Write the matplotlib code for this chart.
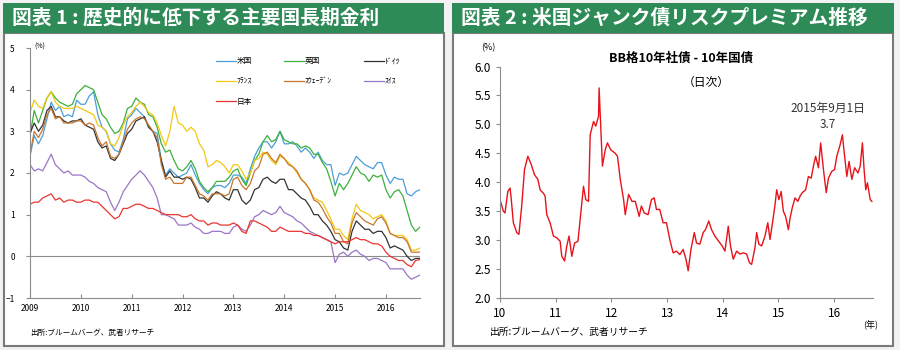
import numpy as np
import matplotlib
matplotlib.use('Agg')
import matplotlib.pyplot as plt
from matplotlib.patches import Rectangle

plt.rcParams['font.family'] = ['Noto Sans CJK JP', 'DejaVu Sans']

# ---- chart 1: long-term yields, monthly, Jan 2009 - Sep 2016 ----
months = np.arange(2009, 2016 + 8 / 12 + 1e-9, 1 / 12)

us = [2.4, 2.9, 2.7, 2.9, 3.3, 3.7, 3.5, 3.6, 3.35, 3.4, 3.35, 3.75,
      3.65, 3.65, 3.85, 3.95, 3.4, 3.1, 3.0, 2.7, 2.55, 2.5, 2.8, 3.3,
      3.4, 3.55, 3.45, 3.35, 3.1, 3.0, 2.95, 2.3, 1.95, 2.1, 2.0, 1.9,
      1.95, 2.0, 2.2, 1.95, 1.75, 1.6, 1.5, 1.65, 1.7, 1.7, 1.65, 1.75,
      1.95, 1.95, 1.9, 1.75, 2.1, 2.4, 2.6, 2.75, 2.75, 2.6, 2.75, 3.0,
      2.7, 2.7, 2.75, 2.65, 2.5, 2.6, 2.5, 2.35, 2.5, 2.3, 2.2, 2.2,
      1.7, 2.0, 1.95, 2.0, 2.2, 2.4, 2.3, 2.2, 2.15, 2.1, 2.25, 2.25,
      1.95, 1.75, 1.9, 1.85, 1.85, 1.5, 1.45, 1.55, 1.6]
uk = [2.9, 3.5, 3.2, 3.5, 3.8, 3.95, 3.8, 3.7, 3.65, 3.6, 3.65, 3.9,
      4.0, 4.1, 4.05, 4.0, 3.7, 3.4, 3.3, 3.1, 2.95, 3.0, 3.2, 3.55,
      3.6, 3.8, 3.7, 3.65, 3.4, 3.35, 3.1, 2.7, 2.5, 2.55, 2.3, 2.1,
      2.05, 2.15, 2.3, 2.1, 1.8, 1.65, 1.55, 1.65, 1.8, 1.8, 1.8, 1.9,
      2.05, 2.1, 1.85, 1.7, 2.0, 2.3, 2.45, 2.75, 2.9, 2.75, 2.8, 3.0,
      2.8, 2.75, 2.7, 2.7, 2.6, 2.65, 2.6, 2.45, 2.45, 2.25, 2.1, 1.8,
      1.45, 1.75, 1.6, 1.75, 1.95, 2.15, 2.0, 1.95, 1.8, 1.95, 1.9, 1.95,
      1.6, 1.4, 1.55, 1.6, 1.45, 1.1, 0.75, 0.6, 0.7]
de = [2.95, 3.2, 3.0, 3.15, 3.5, 3.6, 3.35, 3.35, 3.25, 3.2, 3.25, 3.25,
      3.3, 3.15, 3.1, 3.05, 2.75, 2.6, 2.65, 2.35, 2.3, 2.45, 2.7, 2.95,
      3.05, 3.25, 3.3, 3.35, 3.1, 3.0, 2.75, 2.3, 1.9, 2.05, 1.9, 1.9,
      1.85, 1.9, 1.85, 1.65, 1.4, 1.4, 1.3, 1.45, 1.55, 1.5, 1.4, 1.35,
      1.6, 1.6, 1.35, 1.25, 1.35, 1.6, 1.65, 1.85, 1.9, 1.8, 1.75, 1.85,
      1.85, 1.6, 1.6, 1.5, 1.4, 1.35, 1.2, 1.0, 1.0, 0.85, 0.75, 0.6,
      0.4, 0.35, 0.2, 0.15, 0.6, 0.85, 0.75, 0.65, 0.65, 0.55, 0.6, 0.6,
      0.45, 0.2, 0.25, 0.2, 0.15, 0.0, -0.1, -0.05, -0.05]
fr = [3.45, 3.75, 3.6, 3.55, 3.8, 3.95, 3.7, 3.6, 3.55, 3.55, 3.55, 3.6,
      3.55, 3.5, 3.45, 3.4, 3.15, 3.1, 3.0, 2.7, 2.65, 2.85, 3.15, 3.35,
      3.45, 3.6, 3.7, 3.6, 3.45, 3.4, 3.2, 2.9, 2.65, 3.0, 3.6, 3.2,
      3.15, 3.0, 3.1, 3.0, 2.7, 2.55, 2.15, 2.2, 2.3, 2.25, 2.15, 2.0,
      2.2, 2.2, 2.05, 1.85, 2.0, 2.3, 2.35, 2.5, 2.45, 2.3, 2.2, 2.4,
      2.35, 2.25, 2.15, 2.0, 1.85, 1.75, 1.6, 1.4, 1.35, 1.3, 1.1, 0.9,
      0.65, 0.65, 0.5, 0.4, 0.9, 1.25, 1.1, 1.05, 1.0, 0.9, 0.95, 1.0,
      0.85, 0.55, 0.5, 0.5, 0.5, 0.4, 0.15, 0.15, 0.2]
se = [2.45, 3.0, 2.85, 3.05, 3.4, 3.55, 3.3, 3.35, 3.2, 3.2, 3.2, 3.25,
      3.25, 3.15, 3.2, 3.15, 2.85, 2.65, 2.75, 2.4, 2.35, 2.45, 2.75, 3.05,
      3.2, 3.3, 3.35, 3.3, 3.15, 3.0, 2.85, 2.2, 1.85, 1.9, 1.75, 1.75,
      1.75, 1.9, 1.9, 1.7, 1.5, 1.45, 1.35, 1.5, 1.5, 1.5, 1.45, 1.5,
      1.85, 1.9, 1.7, 1.6, 1.75, 2.05, 2.15, 2.45, 2.5, 2.35, 2.25, 2.45,
      2.35, 2.2, 2.15, 2.05, 1.85, 1.75, 1.6, 1.35, 1.3, 1.15, 0.95, 0.8,
      0.55, 0.55, 0.35, 0.3, 0.8, 1.05, 0.95, 0.85, 0.8, 0.75, 0.9, 0.95,
      0.8, 0.55, 0.5, 0.45, 0.45, 0.35, 0.1, 0.1, 0.1]
ch = [2.2, 2.05, 2.1, 2.05, 2.25, 2.45, 2.2, 2.1, 2.0, 2.05, 1.95, 1.95,
      1.95, 1.9, 1.8, 1.75, 1.65, 1.6, 1.55, 1.3, 1.1, 1.3, 1.55, 1.7,
      1.85, 1.95, 2.05, 1.95, 1.8, 1.65, 1.4, 1.0, 1.0, 0.95, 0.9, 0.75,
      0.75, 0.75, 0.8, 0.7, 0.65, 0.55, 0.55, 0.6, 0.6, 0.6, 0.55, 0.55,
      0.7, 0.75, 0.65, 0.6, 0.75, 0.95, 1.0, 1.1, 1.05, 1.0, 1.05, 1.2,
      1.05, 1.0, 0.95, 0.85, 0.8, 0.7, 0.6, 0.55, 0.5, 0.45, 0.4, 0.35,
      -0.15, 0.05, 0.1, 0.0, 0.1, 0.15, 0.05, 0.0, -0.1, -0.05, -0.05, -0.1,
      -0.15, -0.3, -0.3, -0.3, -0.3, -0.45, -0.55, -0.5, -0.45]
jp = [1.25, 1.3, 1.3, 1.4, 1.45, 1.5, 1.35, 1.4, 1.3, 1.35, 1.35, 1.3,
      1.3, 1.35, 1.35, 1.3, 1.3, 1.2, 1.1, 1.0, 0.9, 0.95, 1.15, 1.15,
      1.2, 1.25, 1.25, 1.2, 1.15, 1.15, 1.1, 1.05, 1.0, 1.0, 1.0, 1.0,
      0.95, 0.95, 1.0, 0.9, 0.85, 0.85, 0.75, 0.8, 0.8, 0.75, 0.75, 0.75,
      0.8, 0.75, 0.6, 0.55, 0.85, 0.85, 0.8, 0.75, 0.7, 0.6, 0.6, 0.7,
      0.65, 0.6, 0.6, 0.6, 0.6, 0.55, 0.55, 0.5, 0.5, 0.45, 0.4, 0.35,
      0.3, 0.35, 0.35, 0.35, 0.4, 0.45, 0.4, 0.4, 0.35, 0.3, 0.3, 0.25,
      0.1, 0.0, -0.05, -0.1, -0.1, -0.2, -0.25, -0.1, -0.08]

names = ['米国', '英国', 'ﾄﾞｲﾂ', 'ﾌﾗﾝｽ', 'ｽｳｪｰﾃﾞﾝ', 'ｽｲｽ', '日本']
colors = ['#4a9fd8', '#3cb03c', '#333333', '#f2c811', '#c8762e', '#9a76c6', '#ea3530']

# ---- chart 2: BB 10y corporate - 10y treasury spread ----
spread_year = [10.00, 10.06, 10.09, 10.14, 10.18, 10.20, 10.24, 10.30, 10.34, 10.39,
               10.44, 10.50, 10.56, 10.62, 10.68, 10.72, 10.78, 10.81, 10.84, 10.90,
               10.96, 11.02, 11.08, 11.11, 11.16, 11.20, 11.24, 11.29, 11.34, 11.40,
               11.44, 11.50, 11.54, 11.59, 11.62, 11.68, 11.72, 11.77, 11.78, 11.81,
               11.84, 11.89, 11.93, 11.99, 12.07, 12.11, 12.16, 12.22, 12.25, 12.31,
               12.37, 12.43, 12.50, 12.54, 12.59, 12.66, 12.72, 12.77, 12.81, 12.87,
               12.93, 12.99, 13.05, 13.11, 13.17, 13.23, 13.29, 13.34, 13.38, 13.43,
               13.49, 13.53, 13.59, 13.65, 13.69, 13.75, 13.80, 13.86, 13.93, 13.99,
               14.04, 14.10, 14.14, 14.19, 14.25, 14.31, 14.37, 14.43, 14.48, 14.52,
               14.58, 14.61, 14.65, 14.70, 14.76, 14.81, 14.85, 14.89, 14.94, 14.97,
               15.01, 15.05, 15.09, 15.13, 15.18, 15.21, 15.25, 15.30, 15.35, 15.39,
               15.43, 15.49, 15.54, 15.59, 15.63, 15.67, 15.72, 15.76, 15.81, 15.86,
               15.90, 15.96, 16.01, 16.05, 16.11, 16.15, 16.19, 16.23, 16.27, 16.32,
               16.37, 16.43, 16.47, 16.51, 16.54, 16.57, 16.60, 16.65, 16.68]
spread = [3.70, 3.50, 3.47, 3.84, 3.90, 3.73, 3.30, 3.13, 3.10, 3.59,
          4.22, 4.45, 4.31, 4.13, 4.05, 3.87, 3.81, 3.76, 3.44, 3.30,
          3.07, 3.04, 2.98, 2.72, 2.64, 2.90, 3.07, 2.72, 2.95, 2.98,
          3.36, 3.93, 3.70, 3.67, 4.82, 5.05, 4.97, 5.14, 5.63, 4.97,
          4.28, 4.56, 4.68, 4.56, 4.50, 4.45, 4.05, 3.70, 3.44, 3.79,
          3.67, 3.67, 3.41, 3.59, 3.47, 3.44, 3.70, 3.73, 3.53, 3.53,
          3.30, 3.30, 3.01, 2.78, 2.81, 2.75, 2.84, 2.67, 2.47, 2.84,
          3.13, 2.95, 2.93, 3.13, 3.18, 3.33, 3.18, 3.07, 2.98, 2.90,
          2.81, 3.24, 2.90, 2.67, 2.81, 2.76, 2.78, 2.76, 2.61, 2.58,
          2.87, 3.13, 2.93, 2.90, 3.07, 3.30, 3.01, 3.27, 3.61, 3.87,
          3.70, 3.84, 3.50, 3.41, 3.18, 3.38, 3.56, 3.73, 3.67, 3.76,
          3.82, 3.87, 4.10, 4.07, 4.28, 4.45, 4.25, 4.68, 4.22, 3.82,
          4.07, 4.19, 4.22, 4.45, 4.65, 4.82, 4.45, 4.10, 4.36, 4.05,
          4.25, 4.16, 4.28, 4.68, 4.22, 3.87, 3.99, 3.70, 3.67]

W, H = 900, 350
fig = plt.figure(figsize=(9, 3.5), dpi=100, facecolor='#f2f2f2')


def box(x0, y0, x1, y1, **kw):
    # pixel box (top-left origin) -> figure rectangle
    r = Rectangle((x0 / W, 1 - y1 / H), (x1 - x0) / W, (y1 - y0) / H,
                  transform=fig.transFigure, zorder=-5, **kw)
    fig.add_artist(r)


green = '#2e8b57'
box(4, 33, 444, 346, facecolor='white', edgecolor='#7a7a7a', linewidth=1.5)
box(453, 33, 893, 346, facecolor='white', edgecolor='#7a7a7a', linewidth=1.5)
box(3, 3, 444, 33, facecolor=green, edgecolor='none')
box(452, 3, 894, 33, facecolor=green, edgecolor='none')
fig.text(12 / W, 1 - 18 / H, '図表 1 : 歴史的に低下する主要国長期金利', color='white',
         fontsize=14.2, fontweight='bold', va='center', ha='left')
fig.text(461 / W, 1 - 18 / H, '図表 2 : 米国ジャンク債リスクプレミアム推移', color='white',
         fontsize=14.2, fontweight='bold', va='center', ha='left')

# ---- left chart ----
ax1 = fig.add_axes([30 / W, 1 - 298 / H, 390 / W, 250 / H])
ax1.set_facecolor('none')
lines = []
for vals, name, c in zip([us, uk, de, fr, se, ch, jp], names, colors):
    ln, = ax1.plot(months, vals, color=c, linewidth=0.9, label=name)
    lines.append(ln)
ax1.axhline(0, color='#8c8c8c', linewidth=0.8, zorder=0)
ax1.set_xlim(2009, 2016.67)
ax1.set_ylim(-1, 5)
ax1.set_xticks(range(2009, 2017))
ax1.set_yticks(range(-1, 6))
for s in ['top', 'right']:
    ax1.spines[s].set_visible(False)
for s in ['left', 'bottom']:
    ax1.spines[s].set_color('#8c8c8c')
    ax1.spines[s].set_linewidth(0.8)
ax1.tick_params(axis='y', direction='out', length=3, labelsize=6, color='#8c8c8c', pad=8)
ax1.tick_params(axis='x', direction='in', length=3, labelsize=6, color='#8c8c8c', pad=4)
order = [0, 3, 6, 1, 4, 2, 5]
ax1.legend([lines[i] for i in order], [names[i] for i in order], ncol=3,
           loc='upper left', bbox_to_anchor=(0.46, 0.99), frameon=False,
           fontsize=5.5, handlelength=2.6, handletextpad=0.1,
           labelspacing=1.6, columnspacing=4.2)
fig.text(34 / W, 1 - 47 / H, '(%)', fontsize=5, va='center', ha='left')
fig.text(30 / W, 1 - 333 / H, '出所:ブルームバーグ、武者リサーチ', fontsize=5.5,
         va='center', ha='left')

# ---- right chart ----
ax2 = fig.add_axes([500 / W, 1 - 298 / H, 373 / W, 231.5 / H])
ax2.set_facecolor('none')
ax2.plot(spread_year, spread, color='#e8121a', linewidth=1.0)
ax2.set_xlim(10, 16.7)
ax2.set_ylim(2.0, 6.0)
ax2.set_xticks(range(10, 17))
ax2.set_yticks(np.arange(2.0, 6.01, 0.5))
ax2.set_yticklabels([f'{v:.1f}' for v in np.arange(2.0, 6.01, 0.5)])
for s in ['top', 'right']:
    ax2.spines[s].set_visible(False)
for s in ['left', 'bottom']:
    ax2.spines[s].set_color('#8c8c8c')
    ax2.spines[s].set_linewidth(0.8)
ax2.tick_params(direction='out', length=3, labelsize=8.5, color='#8c8c8c')
ax2.text(0.485, 1.037, 'BB格10年社債 - 10年国債', transform=ax2.transAxes,
         fontsize=9, fontweight='bold', ha='center', va='center')
ax2.text(0.552, 0.933, '（日次）', transform=ax2.transAxes, fontsize=8.5,
         ha='center', va='center')
ax2.text(0.879, 0.82, '2015年9月1日', transform=ax2.transAxes, fontsize=8.5,
         ha='center', va='center', color='#333333')
ax2.text(0.879, 0.75, '3.7', transform=ax2.transAxes, fontsize=8.5,
         ha='center', va='center', color='#333333')
fig.text(488 / W, 1 - 48 / H, '(%)', fontsize=6.5, va='center', ha='center')
fig.text(871 / W, 1 - 325 / H, '(年)', fontsize=6.5, va='center', ha='center')
fig.text(490 / W, 1 - 332 / H, '出所:ブルームバーグ、武者リサーチ', fontsize=7,
         va='center', ha='left')

fig.savefig('out.png', dpi=100, facecolor=fig.get_facecolor())
